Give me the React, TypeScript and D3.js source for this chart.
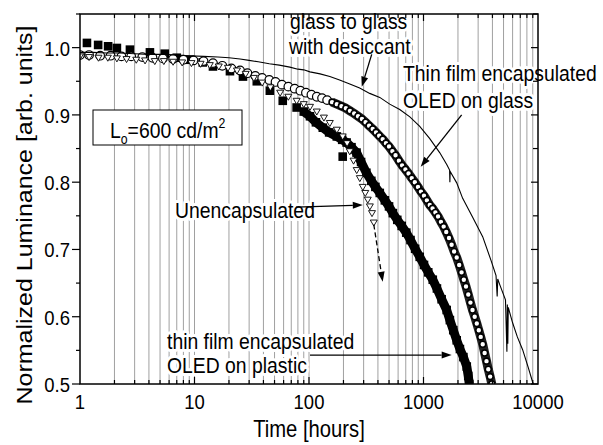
import React from 'react';
import * as d3 from 'd3';

// thin film encapsulated OLED on plastic (filled squares)
const plasticTime = [1.15, 1.44, 1.76, 2.1, 2.73, 4.08, 5.5, 7.0, 9.1, 11.8, 14.5, 20.4, 26.5, 35, 45.5, 59, 78, 90, 102, 115, 132, 150, 175, 195, 213, 235, 260, 285, 317, 350, 380, 415, 460, 500, 540, 590, 645, 707, 770, 845, 927, 1010, 1100, 1205, 1310, 1440, 1594, 1700, 1820, 1950, 2080, 2230, 2387, 2460, 2512];
const plasticLum = [1.007, 1.004, 1.002, 0.9995, 0.997, 0.993, 0.991, 0.985, 0.982, 0.978, 0.972, 0.965, 0.957, 0.95, 0.936, 0.921, 0.911, 0.905, 0.898, 0.889, 0.881, 0.874, 0.868, 0.863, 0.859, 0.852, 0.844, 0.83, 0.814, 0.802, 0.793, 0.784, 0.773, 0.764, 0.754, 0.744, 0.735, 0.725, 0.714, 0.701, 0.689, 0.677, 0.666, 0.655, 0.642, 0.626, 0.61, 0.595, 0.58, 0.565, 0.552, 0.54, 0.526, 0.512, 0.5];
const plasticOutlierTime = [197];
const plasticOutlierLum = [0.838];

// thin film encapsulated OLED on glass (open circles)
const glassTime = [1, 1.2, 1.5, 1.85, 2.3, 2.8, 3.5, 4.3, 5.3, 6.5, 8, 9.8, 12, 14.5, 17.5, 21, 25, 29, 34, 39, 45, 51, 58, 66, 75, 84, 94, 105, 117, 130, 144, 159, 175, 192, 210, 228, 248, 268, 290, 312, 335, 360, 385, 410, 440, 470, 500, 535, 570, 610, 650, 695, 740, 790, 840, 895, 950, 1010, 1070, 1135, 1200, 1270, 1340, 1420, 1500, 1580, 1670, 1760, 1850, 1950, 2050, 2150, 2250, 2350, 2460, 2570, 2680, 2800, 2920, 3040, 3160, 3290, 3420, 3550, 3680, 3820, 3950];
const glassLum = [0.989, 0.989, 0.988, 0.988, 0.987, 0.987, 0.986, 0.985, 0.984, 0.983, 0.982, 0.981, 0.98, 0.977, 0.973, 0.969, 0.966, 0.962, 0.958, 0.955, 0.952, 0.949, 0.945, 0.942, 0.939, 0.936, 0.933, 0.93, 0.927, 0.925, 0.922, 0.919, 0.916, 0.913, 0.91, 0.906, 0.902, 0.898, 0.894, 0.889, 0.884, 0.879, 0.874, 0.869, 0.864, 0.858, 0.853, 0.846, 0.84, 0.832, 0.825, 0.819, 0.813, 0.806, 0.8, 0.793, 0.786, 0.78, 0.773, 0.766, 0.761, 0.755, 0.749, 0.741, 0.734, 0.726, 0.717, 0.707, 0.697, 0.688, 0.677, 0.666, 0.655, 0.645, 0.633, 0.621, 0.61, 0.6, 0.59, 0.58, 0.57, 0.559, 0.546, 0.534, 0.522, 0.511, 0.5];

// unencapsulated (open down triangles)
const unencTime = [1, 1.2, 1.45, 1.75, 2.1, 2.55, 3.1, 3.7, 4.5, 5.4, 6.5, 7.8, 9.4, 11.3, 13.6, 16.3, 19.6, 23.5, 28, 33, 39, 46, 56, 66, 78, 90, 102, 117, 135, 152, 175, 197, 215, 227, 245, 261, 278, 295, 310, 326, 340, 355, 368];
const unencLum = [0.987, 0.986, 0.985, 0.985, 0.984, 0.983, 0.982, 0.981, 0.98, 0.98, 0.979, 0.978, 0.977, 0.976, 0.974, 0.972, 0.97, 0.966, 0.961, 0.955, 0.948, 0.941, 0.933, 0.927, 0.921, 0.916, 0.912, 0.905, 0.896, 0.888, 0.878, 0.868, 0.858, 0.846, 0.832, 0.818, 0.806, 0.793, 0.784, 0.774, 0.764, 0.754, 0.74];

// glass to glass with desiccant (thin line)
const desiccantTime = [1, 1.3, 1.7, 2.2, 3, 4, 5.5, 7, 9, 12, 16, 20, 25, 30, 36, 45, 55, 68, 80, 90, 102, 125, 152, 185, 227, 277, 339, 415, 507, 620, 760, 927, 1130, 1384, 1600, 1690, 1700, 1710, 1950, 2198, 2687, 3287, 3900, 4300, 4400, 4450, 4624, 5200, 5350, 5400, 5450, 5500, 6000, 6600, 7340, 8200, 8970, 9300];
const desiccantLum = [0.993, 0.993, 0.992, 0.992, 0.991, 0.99, 0.99, 0.989, 0.988, 0.987, 0.986, 0.985, 0.983, 0.981, 0.979, 0.976, 0.974, 0.971, 0.968, 0.967, 0.964, 0.961, 0.957, 0.952, 0.946, 0.94, 0.932, 0.926, 0.916, 0.908, 0.897, 0.883, 0.865, 0.844, 0.826, 0.818, 0.8, 0.816, 0.799, 0.776, 0.748, 0.719, 0.683, 0.661, 0.63, 0.656, 0.648, 0.625, 0.548, 0.618, 0.56, 0.614, 0.591, 0.57, 0.551, 0.525, 0.503, 0.495];

const xTicks = [1, 10, 100, 1000, 10000];
const yTicks = [0.5, 0.6, 0.7, 0.8, 0.9, 1.0];

// annotation arrows, in data units [time, luminance]
const desiccantArrow = [[353, 0.99], [289, 0.942]];
const glassArrow = [[2154, 0.9], [945, 0.823]];
const unencArrow = [[77, 0.763], [295, 0.766]];
const unencDashArrow = [[368, 0.737], [440, 0.652]];
const plasticArrow = [[102, 0.543], [1762, 0.543]];

const W = 603;
const H = 445;
const margin = { top: 14, right: 65, bottom: 61, left: 80 };
const FONT = '"Liberation Sans", Arial, Helvetica, sans-serif';
const SX = 0.88;

const x = d3.scaleLog().domain([1, 10000]).range([margin.left, W - margin.right]);
const y = d3.scaleLinear().domain([0.5, 1.05]).range([H - margin.bottom, margin.top]);

const zip = (t: number[], l: number[]) => t.map((d, i) => [d, l[i]] as [number, number]);

const Label = ({ px, py, size, anchor = 'start', halo = false, children }: any) => (
  <text
    transform={`translate(${px},${py}) scale(${SX},1)`}
    fontSize={size}
    textAnchor={anchor}
    fontFamily={FONT}
    fill="#000"
    stroke={halo ? '#fff' : 'none'}
    strokeWidth={halo ? 6 : 0}
    strokeLinejoin="round"
    paintOrder="stroke"
  >
    {children}
  </text>
);

const Arrow = ({ pts, dashed = false }: { pts: number[][]; dashed?: boolean }) => {
  const x0 = x(pts[0][0]), y0 = y(pts[0][1]);
  const x1 = x(pts[1][0]), y1 = y(pts[1][1]);
  const a = Math.atan2(y1 - y0, x1 - x0);
  const len = 10, hw = 3.5;
  const bx = x1 - len * Math.cos(a), by = y1 - len * Math.sin(a);
  const head = [
    [x1, y1],
    [bx + hw * Math.sin(a), by - hw * Math.cos(a)],
    [bx - hw * Math.sin(a), by + hw * Math.cos(a)],
  ];
  return (
    <g>
      <line x1={x0} y1={y0} x2={bx} y2={by} stroke="#000" strokeWidth={1.3} strokeDasharray={dashed ? '5,3' : undefined} />
      <polygon points={head.map((p) => p.join(',')).join(' ')} fill="#000" />
    </g>
  );
};

export default function App() {
  const left = margin.left, right = W - margin.right;
  const top = margin.top, bottom = H - margin.bottom;

  // minor log positions 2..9 x decade, and decades
  const logLines: { v: number; major: boolean }[] = [];
  for (let k = 0; k < 4; k++) {
    for (let m = 1; m <= 9; m++) {
      const v = m * Math.pow(10, k);
      if (v > 1) logLines.push({ v, major: m === 1 });
    }
  }
  const yMinor = d3.range(0.5, 1.0501, 0.05).map((v) => +v.toFixed(2));

  const plastic = zip(plasticTime, plasticLum);
  const plasticOut = zip(plasticOutlierTime, plasticOutlierLum);
  const glass = zip(glassTime, glassLum);
  const unenc = zip(unencTime, unencLum);
  const desiccant = zip(desiccantTime, desiccantLum);

  const line = d3.line<[number, number]>().x((d) => x(d[0])).y((d) => y(d[1]));
  const band = plastic.filter((d) => d[0] >= 90);
  const glassBand = glass.filter((d) => d[0] >= 150);

  return (
    <svg width={W} height={H} style={{ position: 'absolute', left: 0, top: 0, background: '#fff' }}>
      <defs>
        <clipPath id="plot">
          <rect x={left} y={top} width={right - left} height={bottom - top} />
        </clipPath>
      </defs>
      <rect x={0} y={0} width={W} height={H} fill="#fff" />

      {/* vertical grid */}
      {logLines.map((g) => (
        <line key={g.v} x1={x(g.v)} x2={x(g.v)} y1={top} y2={bottom} stroke="#a0a0a0" strokeWidth={1} />
      ))}

      <g clipPath="url(#plot)">
        {/* squares: dense band plus markers */}
        <path d={line(band) || ''} fill="none" stroke="#000" strokeWidth={9} strokeLinejoin="round" />
        {plastic.concat(plasticOut).map((d, i) => (
          <rect key={'s' + i} x={x(d[0]) - 4.3} y={y(d[1]) - 4.3} width={8.6} height={8.6} fill="#000" />
        ))}
        {/* circles: overlapping outlines */}
        <path d={line(glassBand) || ''} fill="none" stroke="#222" strokeWidth={9} strokeLinejoin="round" />
        {glass.map((d, i) => (
          <circle
            key={'c' + i}
            cx={x(d[0])}
            cy={y(d[1])}
            r={d[0] >= 150 ? 3 : 4.3}
            fill="#fff"
            stroke="#000"
            strokeWidth={d[0] >= 150 ? 1.6 : 1.2}
          />
        ))}
        {/* triangles */}
        {unenc.map((d, i) => {
          const cx = x(d[0]), cy = y(d[1]);
          return (
            <polygon
              key={'t' + i}
              points={`${cx - 3.5},${cy - 2.5} ${cx + 3.5},${cy - 2.5} ${cx},${cy + 3.5}`}
              fill="#fff"
              stroke="#000"
              strokeWidth={0.9}
            />
          );
        })}
        {/* thin line */}
        <path d={line(desiccant) || ''} fill="none" stroke="#000" strokeWidth={1.1} />
      </g>

      {/* annotations */}
      <Label px={290} py={29} size={22} halo>glass to glass</Label>
      <Label px={289} py={54} size={22} halo>with desiccant</Label>
      <Label px={403} py={81} size={22} halo>Thin film encapsulated</Label>
      <Label px={403} py={108} size={22} halo>OLED on glass</Label>
      <Label px={175} py={218} size={22} halo>Unencapsulated</Label>
      <Label px={167} py={349} size={22} halo>thin film encapsulated</Label>
      <Label px={167} py={373} size={22} halo>OLED on plastic</Label>

      <Arrow pts={desiccantArrow} />
      <Arrow pts={glassArrow} />
      <Arrow pts={unencArrow} />
      <Arrow pts={unencDashArrow} dashed />
      <Arrow pts={plasticArrow} />

      {/* L0 box */}
      <rect x={93} y={110} width={149} height={35} fill="#fff" stroke="#000" strokeWidth={1} />
      <text transform={`translate(110,138) scale(${SX},1)`} fontSize={22} fontFamily={FONT} fill="#000">
        L<tspan fontSize={14} dy={6}>o</tspan>
        <tspan dy={-6}>=600 cd/m</tspan>
        <tspan fontSize={14} dy={-10}>2</tspan>
      </text>

      {/* frame */}
      <rect x={left} y={top} width={right - left} height={bottom - top} fill="none" stroke="#000" strokeWidth={1.5} />

      {/* x ticks: bottom and top, inward */}
      {logLines.map((g) => (
        <g key={'xt' + g.v}>
          <line x1={x(g.v)} x2={x(g.v)} y1={bottom} y2={bottom - (g.major ? 7 : 4)} stroke="#000" strokeWidth={1.2} />
          <line x1={x(g.v)} x2={x(g.v)} y1={top} y2={top + (g.major ? 7 : 4)} stroke="#000" strokeWidth={1.2} />
        </g>
      ))}
      {/* y ticks: left outward, right inward */}
      {yMinor.map((v) => {
        const major = Math.abs(v * 10 - Math.round(v * 10)) < 1e-6;
        return (
          <g key={'yt' + v}>
            <line x1={left} x2={left - (major ? 8 : 4)} y1={y(v)} y2={y(v)} stroke="#000" strokeWidth={1.2} />
            <line x1={right} x2={right - (major ? 7 : 5)} y1={y(v)} y2={y(v)} stroke="#000" strokeWidth={1.2} />
          </g>
        );
      })}

      {/* tick labels */}
      {xTicks.map((v) => (
        <Label key={'xl' + v} px={x(v)} py={409} size={21} anchor="middle">
          {String(v)}
        </Label>
      ))}
      {yTicks.map((v) => (
        <Label key={'yl' + v} px={70} py={y(v) + 8} size={21} anchor="end">
          {v.toFixed(1)}
        </Label>
      ))}

      {/* axis titles */}
      <Label px={(left + right) / 2} py={437} size={23} anchor="middle">
        Time [hours]
      </Label>
      <text
        transform={`translate(32,215) scale(${SX},1) rotate(-90)`}
        fontSize={25}
        textAnchor="middle"
        fontFamily={FONT}
        fill="#000"
      >
        Normalized Luminance [arb. units]
      </text>
    </svg>
  );
}
